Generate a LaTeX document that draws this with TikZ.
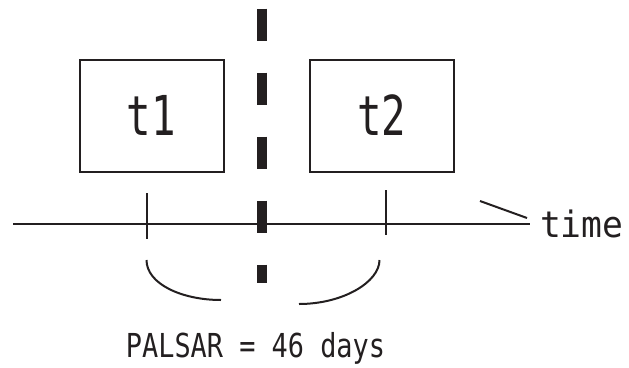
\documentclass[tikz,border=0pt]{standalone}
\usepackage{fontspec}
\newfontfamily\gfont{DejaVu Sans Mono}
\definecolor{ink}{RGB}{35,31,32}
\begin{document}
\begin{tikzpicture}[x=1pt,y=-1pt,
  line width=2pt, color=ink,
  frame/.style={draw, line width=2pt, minimum width=144pt, minimum height=112pt, inner sep=0pt},
  bigtext/.style={font=\gfont\fontsize{55}{60}\selectfont},
  midtext/.style={font=\gfont\fontsize{33}{36}\selectfont, inner sep=0pt},
  divider/.style={line width=10pt, dash pattern=on 32pt off 32pt},
  tick/.style={line width=2pt},
  brace/.style={line width=2pt}]
\useasboundingbox (0,0) rectangle (629,367);
% boxes
\node[frame, bigtext] (t1) at (151.5,115.5) {\scalebox{0.74}[1]{t1}};
\node[frame, bigtext] (t2) at (381.5,115.5) {\scalebox{0.74}[1]{t2}};
% timeline
\coordinate (ls) at (13,224);
\coordinate (le) at (530,224);
\draw (ls) -- (le);
\coordinate (k1a) at (147,193);
\coordinate (k1b) at (147,239);
\coordinate (k2a) at (386,190);
\coordinate (k2b) at (386,235);
\draw[tick] (k1a) -- (k1b);
\draw[tick] (k2a) -- (k2b);
% time label
\node[midtext, anchor=base west] (time) at (539,237) {\scalebox{1.05}[1.1]{time}};
\coordinate (sa) at (480,201);
\coordinate (sb) at (527,218);
\draw (sa) -- (sb);
% dividing dashed line
\coordinate (da) at (261.5,8.5);
\coordinate (db) at (261.5,283);
\draw[divider] (da) -- (db);
% braces
\coordinate (b1a) at (146.5,260);
\coordinate (b1b) at (221,300);
\coordinate (b2a) at (299,304);
\coordinate (b2b) at (379.5,260);
\draw[brace] (b1a) .. controls (146.5,284) and (182,300) .. (b1b);
\draw[brace] (b2a) .. controls (343,304) and (379.5,282) .. (b2b);
% caption
\node[font=\gfont\fontsize{33}{38}\selectfont, inner sep=0pt, anchor=base] (cap) at (255.5,357) {\scalebox{0.815}[1]{PALSAR = 46 days}};
\end{tikzpicture}
\end{document}
